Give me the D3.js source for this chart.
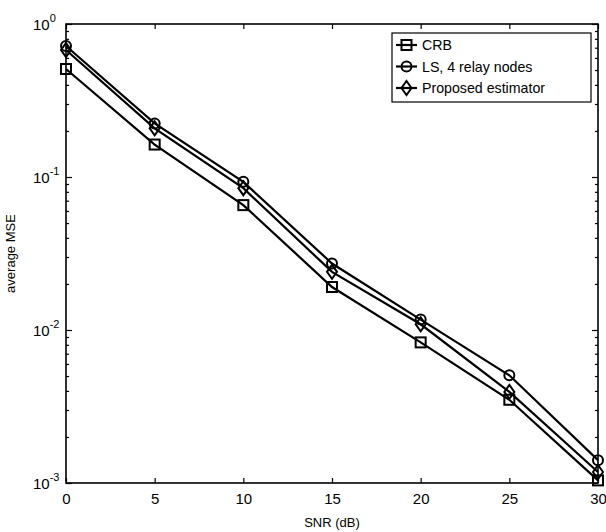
<!DOCTYPE html>
<html>
<head>
<meta charset="utf-8">
<script src="https://cdn.jsdelivr.net/npm/d3@7"></script>
<style>
  body { margin: 0; background: #fff; }
  text { font-family: "Liberation Sans", Arial, sans-serif; fill: #000; }
</style>
</head>
<body>
<div id="chart"></div>
<script>
// SNR points and the three curves
const snr = [0, 5, 10, 15, 20, 25, 30];
const crb = [0.508, 0.163, 0.0655, 0.0191, 0.0083, 0.0035, 0.00104];
const lsRelay = [0.718, 0.224, 0.093, 0.0272, 0.0117, 0.00506, 0.00141];
const proposed = [0.676, 0.208, 0.0845, 0.024, 0.0109, 0.00394, 0.00118];

const seriesNames = ["CRB", "LS, 4 relay nodes", "Proposed estimator"];
const seriesMarkers = ["square", "circle", "diamond"];
const xTicks = [0, 5, 10, 15, 20, 25, 30];
const yDecades = [1e-3, 1e-2, 1e-1, 1];

const width = 606, height = 532;
const margin = {top: 24, right: 8, bottom: 49, left: 66};
const w = width - margin.left - margin.right,
      h = height - margin.top - margin.bottom;

const svg = d3.select("#chart").append("svg")
    .attr("width", width)
    .attr("height", height);

const g = svg.append("g")
    .attr("transform", `translate(${margin.left},${margin.top})`);

const x = d3.scaleLinear().domain([0, 30]).range([0, w]);
const y = d3.scaleLog().domain([1e-3, 1]).range([h, 0]);

// minor log ticks
const minor = [];
for (let d = 1e-3; d < 1; d *= 10) {
    for (let k = 2; k <= 9; k++) minor.push(d * k);
}

// frame
g.append("rect")
    .attr("width", w).attr("height", h)
    .attr("fill", "none").attr("stroke", "#000").attr("stroke-width", 1.6);

// x ticks, bottom and top, pointing inward
g.append("g")
    .attr("transform", `translate(0,${h})`)
    .call(d3.axisBottom(x).tickValues(xTicks).tickSize(-5).tickPadding(10))
    .call(a => a.select(".domain").remove())
    .call(a => a.selectAll("text").style("font-size", "15px"));
g.append("g")
    .call(d3.axisTop(x).tickValues(xTicks).tickSize(-5).tickFormat(""))
    .call(a => a.select(".domain").remove());

// y ticks, left and right
g.append("g")
    .call(d3.axisLeft(y).tickValues(yDecades).tickSize(-6).tickFormat(""))
    .call(a => a.select(".domain").remove());
g.append("g")
    .call(d3.axisLeft(y).tickValues(minor).tickSize(-3).tickFormat(""))
    .call(a => a.select(".domain").remove());
g.append("g")
    .attr("transform", `translate(${w},0)`)
    .call(d3.axisRight(y).tickValues(yDecades).tickSize(-6).tickFormat(""))
    .call(a => a.select(".domain").remove());
g.append("g")
    .attr("transform", `translate(${w},0)`)
    .call(d3.axisRight(y).tickValues(minor).tickSize(-3).tickFormat(""))
    .call(a => a.select(".domain").remove());
g.selectAll(".tick line").attr("stroke-width", 1.2);

// y tick labels as 10^n
yDecades.forEach(function (d) {
    const t = g.append("text")
        .attr("x", -33)
        .attr("y", y(d) + 6)
        .style("font-size", "15px");
    t.append("tspan").text("10");
    t.append("tspan")
        .attr("dy", -8)
        .style("font-size", "11px")
        .text(Math.round(Math.log10(d)));
});

// axis labels
svg.append("text")
    .attr("x", margin.left + w / 2)
    .attr("y", height - 5)
    .attr("text-anchor", "middle")
    .style("font-size", "13px")
    .text("SNR (dB)");
svg.append("text")
    .attr("transform", `translate(15,${margin.top + h / 2}) rotate(-90)`)
    .attr("text-anchor", "middle")
    .style("font-size", "13px")
    .text("average MSE");

// marker drawing
function drawMarker(sel, type, cx, cy) {
    if (type === "square") {
        sel.append("rect")
            .attr("x", cx - 5).attr("y", cy - 5)
            .attr("width", 10).attr("height", 10)
            .attr("fill", "none").attr("stroke", "#000").attr("stroke-width", 2);
    } else if (type === "circle") {
        sel.append("circle")
            .attr("cx", cx).attr("cy", cy).attr("r", 5)
            .attr("fill", "none").attr("stroke", "#000").attr("stroke-width", 2);
    } else {
        sel.append("path")
            .attr("d", `M${cx},${cy - 7}L${cx + 5},${cy}L${cx},${cy + 7}L${cx - 5},${cy}Z`)
            .attr("fill", "none").attr("stroke", "#000").attr("stroke-width", 2);
    }
}

const allSeries = [crb, lsRelay, proposed];
const line = d3.line()
    .x((d, i) => x(snr[i]))
    .y(d => y(d));

allSeries.forEach(function (vals, si) {
    g.append("path")
        .datum(vals)
        .attr("d", line)
        .attr("fill", "none")
        .attr("stroke", "#000")
        .attr("stroke-width", 2.2);
    const mg = g.append("g");
    vals.forEach(function (v, i) {
        drawMarker(mg, seriesMarkers[si], x(snr[i]), y(v));
    });
});

// legend
const legend = svg.append("g").attr("transform", "translate(392,33)");
legend.append("rect")
    .attr("width", 199).attr("height", 69)
    .attr("fill", "#fff").attr("stroke", "#000").attr("stroke-width", 1.2);
seriesNames.forEach(function (name, i) {
    const ly = 12 + i * 21.5;
    legend.append("line")
        .attr("x1", 4).attr("x2", 25)
        .attr("y1", ly).attr("y2", ly)
        .attr("stroke", "#000").attr("stroke-width", 2.2);
    drawMarker(legend, seriesMarkers[i], 14.5, ly);
    legend.append("text")
        .attr("x", 30)
        .attr("y", ly + 5)
        .style("font-size", "14.2px")
        .text(name);
});
</script>
</body>
</html>
